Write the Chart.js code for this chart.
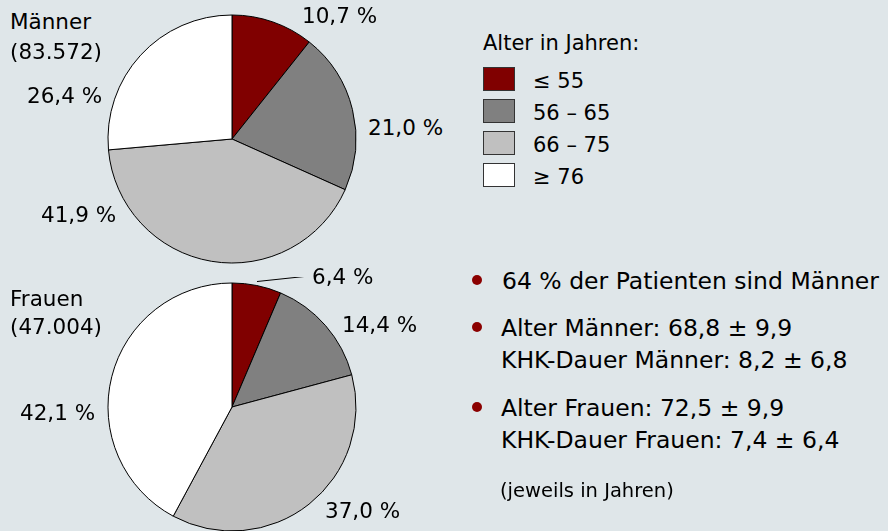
<!DOCTYPE html>
<html>
<head>
<meta charset="utf-8">
<script src="https://cdn.jsdelivr.net/npm/chart.js@4"></script>
<style>
  html, body { margin: 0; padding: 0; }
  body {
    width: 888px; height: 531px; overflow: hidden; position: relative;
    background: #dfe6e9;
    font-family: "DejaVu Sans", sans-serif;
    color: #000;
  }
  canvas { position: absolute; }
  .t { position: absolute; white-space: nowrap; font-size: 21.5px; line-height: 26px; transform: translateY(-50%); }
  .leg { font-size: 21px; }
  .big { font-size: 23.5px; }
  .small { font-size: 19.5px; }
  .box { position: absolute; width: 32px; height: 24px; box-sizing: border-box; border: 1px solid #333; }
  .dot { position: absolute; width: 10px; height: 10px; border-radius: 50%; background: #8b0000; }
</style>
</head>
<body>
<canvas id="menChart" width="260" height="260" style="left:102px;top:9px"></canvas>
<canvas id="womenChart" width="260" height="260" style="left:102px;top:277px"></canvas>

<script>
// Altersgruppen
const ageGroups = ["\u2264 55", "56 \u2013 65", "66 \u2013 75", "\u2265 76"];
const groupColors = ["#800000", "#808080", "#c0c0c0", "#ffffff"];
// Anteile in %
const menValues = [10.7, 21.0, 41.9, 26.4];
const womenValues = [6.4, 14.4, 37.0, 42.1];
const menCount = "83.572";
const womenCount = "47.004";

const bulletLines = [
  ["64 % der Patienten sind M\u00e4nner"],
  ["Alter M\u00e4nner: 68,8 \u00b1 9,9", "KHK-Dauer M\u00e4nner: 8,2 \u00b1 6,8"],
  ["Alter Frauen: 72,5 \u00b1 9,9", "KHK-Dauer Frauen: 7,4 \u00b1 6,4"]
];

function fmt(v) {
  return v.toFixed(1).replace(".", ",") + " %";
}

function addText(txt, x, y, cls) {
  const d = document.createElement("div");
  d.className = "t" + (cls ? " " + cls : "");
  d.textContent = txt;
  d.style.left = x + "px";
  d.style.top = y + "px";
  document.body.appendChild(d);
  return d;
}

// Leader line for the small slice in the women's pie
const leaderLine = {
  id: "leaderLine",
  afterDraw(chart) {
    if (!chart.options.plugins.leaderLine.show) return;
    const arc = chart.getDatasetMeta(0).data[0];
    const p = arc.getProps(["x", "y", "startAngle", "endAngle", "outerRadius"]);
    const a = (p.startAngle + p.endAngle) / 2;
    const x0 = p.x + Math.cos(a) * (p.outerRadius + 1);
    const y0 = p.y + Math.sin(a) * (p.outerRadius + 1);
    const ctx = chart.ctx;
    ctx.save();
    ctx.strokeStyle = "#000";
    ctx.lineWidth = 1;
    ctx.beginPath();
    ctx.moveTo(x0, y0 - 3);
    ctx.lineTo(x0 + 47, y0 - 8);
    ctx.stroke();
    ctx.restore();
  }
};

function makePie(id, values, showLeader) {
  const ctx = document.getElementById(id).getContext("2d");
  return new Chart(ctx, {
    type: "pie",
    data: {
      labels: ageGroups,
      datasets: [{
        data: values,
        backgroundColor: groupColors,
        borderColor: "#000",
        borderWidth: 1
      }]
    },
    options: {
      responsive: false,
      animation: false,
      radius: 124,
      layout: { padding: 0 },
      plugins: {
        legend: { display: false },
        tooltip: { enabled: false },
        leaderLine: { show: showLeader }
      }
    },
    plugins: [leaderLine]
  });
}

makePie("menChart", menValues, false);
makePie("womenChart", womenValues, true);

// Beschriftungen Männer
addText("M\u00e4nner", 10, 22);
addText("(" + menCount + ")", 10, 52);
addText(fmt(menValues[0]), 302, 16);
addText(fmt(menValues[1]), 368, 128);
addText(fmt(menValues[2]), 41, 215);
addText(fmt(menValues[3]), 27, 96);

// Beschriftungen Frauen
addText("Frauen", 10, 299);
addText("(" + womenCount + ")", 10, 327);
addText(fmt(womenValues[0]), 312, 277);
addText(fmt(womenValues[1]), 342, 325);
addText(fmt(womenValues[2]), 325, 511);
addText(fmt(womenValues[3]), 20, 413);

// Legende
addText("Alter in Jahren:", 483, 43, "leg");
ageGroups.forEach((g, i) => {
  const b = document.createElement("div");
  b.className = "box";
  b.style.left = "483px";
  b.style.top = (67 + i * 32) + "px";
  b.style.background = groupColors[i];
  document.body.appendChild(b);
  addText(g, 533, 81 + i * 32, "leg");
});

// Stichpunkte
const bulletY = [281, 328, 408];
bulletLines.forEach((lines, i) => {
  const d = document.createElement("div");
  d.className = "dot";
  d.style.left = "472px";
  d.style.top = (bulletY[i] - 6) + "px";
  document.body.appendChild(d);
  lines.forEach((ln, j) => addText(ln, i === 0 ? 502 : 501, bulletY[i] + j * 32, "big"));
});
addText("(jeweils in Jahren)", 500, 491, "small");
</script>
</body>
</html>
